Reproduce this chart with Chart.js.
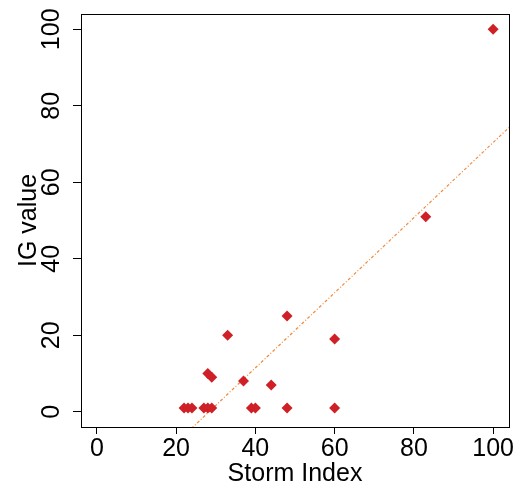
<!DOCTYPE html>
<html>
<head>
<meta charset="utf-8">
<script src="https://cdn.jsdelivr.net/npm/chart.js@4.4.1/dist/chart.umd.min.js"></script>
<style>
  html, body { margin: 0; padding: 0; background: #fff; }
  #wrap { width: 521px; height: 489px; }
</style>
</head>
<body>
<div id="wrap"><canvas id="c" width="521" height="489"></canvas></div>
<script>
// values
const stormIndex = [22, 23, 24, 27, 28, 29, 28, 29, 33, 37, 39, 40, 44, 48, 48, 60, 60, 83, 100];
const igValue    = [1,  1,  1,  1,  10, 9,  1,  1,  20, 8,  1,  1,  7,  25, 1,  19, 1,  51, 100];
const tickValues = [0, 20, 40, 60, 80, 100];
const axisMin = -4, axisMax = 104;

// least squares fit, shown as the dotted trend line
function fitLine(xs, ys) {
    const n = xs.length;
    const mx = xs.reduce((a, b) => a + b, 0) / n;
    const my = ys.reduce((a, b) => a + b, 0) / n;
    let sxy = 0, sxx = 0;
    for (let i = 0; i < n; i++) {
        sxy += (xs[i] - mx) * (ys[i] - my);
        sxx += (xs[i] - mx) * (xs[i] - mx);
    }
    const slope = sxy / sxx;
    return { slope: slope, intercept: my - slope * mx };
}
const fit = fitLine(stormIndex, igValue);
const trend = [axisMin, axisMax].map(x => ({ x: x, y: fit.intercept + fit.slope * x }));

const points = stormIndex.map((x, i) => ({ x: x, y: igValue[i] }));

const font = { family: "'Liberation Sans', Arial, sans-serif", size: 25 };

// box round the plot area
const boxPlugin = {
    id: 'box',
    afterDraw(chart) {
        const a = chart.chartArea;
        const ctx = chart.ctx;
        ctx.save();
        ctx.strokeStyle = '#000';
        ctx.lineWidth = 1;
        ctx.strokeRect(Math.round(a.left) + 0.5, Math.round(a.top) + 0.5,
            Math.round(a.right - a.left), Math.round(a.bottom - a.top));
        ctx.restore();
    }
};

new Chart(document.getElementById('c'), {
    type: 'scatter',
    data: {
        datasets: [
            {
                label: 'IG value',
                data: points,
                pointStyle: 'rectRot',
                pointRadius: 5.5,
                pointHoverRadius: 5.5,
                backgroundColor: '#CF2027',
                borderColor: '#CF2027',
                borderWidth: 0,
                order: 1
            },
            {
                label: 'trend',
                type: 'line',
                data: trend,
                borderColor: '#F08A3E',
                borderWidth: 1.2,
                borderDash: [3, 2, 1, 2],
                pointRadius: 0,
                fill: false,
                order: 2
            }
        ]
    },
    options: {
        responsive: false,
        animation: false,
        events: [],
        layout: { padding: { top: 14, right: 12, left: 0, bottom: 0 } },
        plugins: {
            legend: { display: false },
            tooltip: { enabled: false }
        },
        scales: {
            x: {
                type: 'linear',
                min: axisMin,
                max: axisMax,
                afterBuildTicks: s => { s.ticks = tickValues.map(v => ({ value: v })); },
                afterFit: s => { s.height = 62; s.paddingLeft = 0; s.paddingRight = 0; },
                grid: { drawOnChartArea: false, tickLength: 7, color: '#000', tickColor: '#000' },
                border: { display: true, color: '#000' },
                ticks: { color: '#000', font: font, padding: 0, maxRotation: 0 },
                title: { display: true, text: 'Storm Index', color: '#000', font: font, padding: { top: 0, bottom: 0 } }
            },
            y: {
                type: 'linear',
                min: axisMin,
                max: axisMax,
                afterBuildTicks: s => { s.ticks = tickValues.map(v => ({ value: v })); },
                afterFit: s => { s.width = 81; s.paddingTop = 0; s.paddingBottom = 0; },
                grid: { drawOnChartArea: false, tickLength: 8, color: '#000', tickColor: '#000' },
                border: { display: true, color: '#000' },
                ticks: { color: '#000', font: font, padding: 0, minRotation: 90, maxRotation: 90, crossAlign: 'center' },
                title: { display: true, text: 'IG value', color: '#000', font: font, padding: { top: 14, bottom: 0 } }
            }
        }
    },
    plugins: [boxPlugin]
});
</script>
</body>
</html>
